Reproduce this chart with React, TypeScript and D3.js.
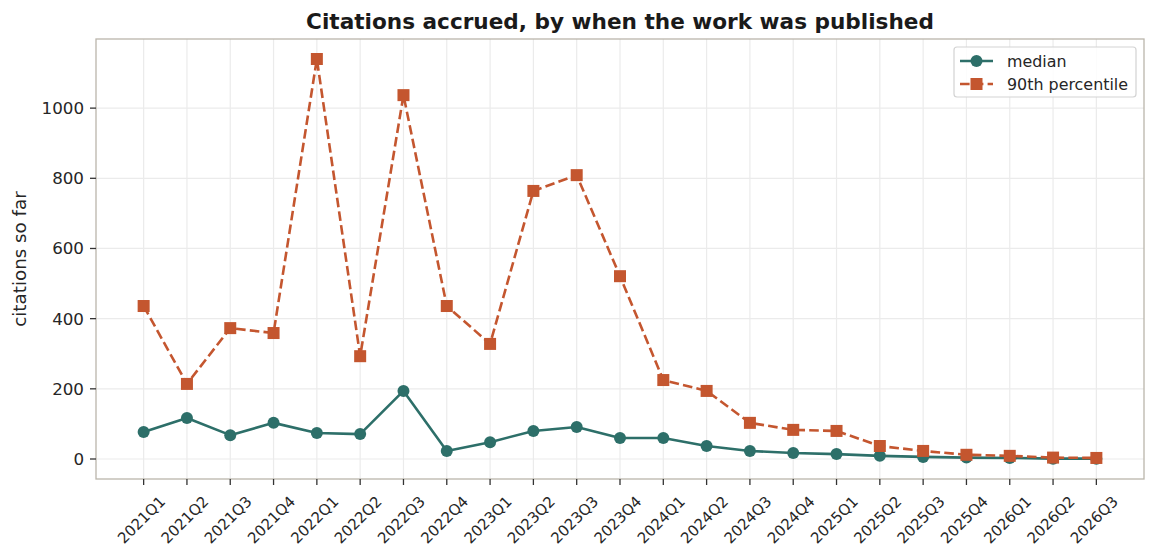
import React from "react";
import * as d3 from "d3";

const quarters = [
  "2021Q1","2021Q2","2021Q3","2021Q4",
  "2022Q1","2022Q2","2022Q3","2022Q4",
  "2023Q1","2023Q2","2023Q3","2023Q4",
  "2024Q1","2024Q2","2024Q3","2024Q4",
  "2025Q1","2025Q2","2025Q3","2025Q4",
  "2026Q1","2026Q2","2026Q3",
];
const medianValues = [77,117,68,103,74,71,194,23,48,80,91,60,60,37,23,17,14,9,6,4,3,1,1];
const p90Values = [436,214,373,359,1140,293,1037,436,328,764,809,521,225,194,103,83,80,37,23,12,9,4,3];
const yTicks = [0,200,400,600,800,1000];

const W = 1156, H = 558;
const L = 96, R = 1144, T = 39, B = 479;
const TEAL = "#2d6f69";
const ORANGE = "#c4562f";
const FONT = "DejaVu Sans";

export default function App() {
  const n = quarters.length;
  const x = d3.scaleLinear().domain([-0.05 * (n - 1), (n - 1) * 1.05]).range([L, R]);
  const yMax = Math.max(...p90Values), yMin = 0;
  const pad = (yMax - yMin) * 0.05;
  const y = d3.scaleLinear().domain([yMin - pad, yMax + pad]).range([B, T]);
  const line = d3.line<number>().x((_, i) => x(i)).y((v) => y(v));

  const xl = 15;
  const labelCenterY = B + 6 + 6 + 29;

  return (
    <svg width={W} height={H} style={{ position: "absolute", left: 0, top: 0, background: "#fff" }} fontFamily={FONT}>
      <rect x={0} y={0} width={W} height={H} fill="#fff" />
      {/* grid */}
      <g stroke="#ebebeb" strokeWidth={1.2}>
        {quarters.map((_, i) => (
          <line key={"gx" + i} x1={x(i)} x2={x(i)} y1={T} y2={B} />
        ))}
        {yTicks.map((t) => (
          <line key={"gy" + t} x1={L} x2={R} y1={y(t)} y2={y(t)} />
        ))}
      </g>
      {/* lines */}
      <path d={line(medianValues) || ""} fill="none" stroke={TEAL} strokeWidth={2.6} strokeLinejoin="round" />
      {medianValues.map((v, i) => (
        <circle key={"m" + i} cx={x(i)} cy={y(v)} r={6} fill={TEAL} />
      ))}
      <path d={line(p90Values) || ""} fill="none" stroke={ORANGE} strokeWidth={2.6} strokeDasharray="9.6,4.2" />
      {p90Values.map((v, i) => (
        <rect key={"p" + i} x={x(i) - 6} y={y(v) - 6} width={12} height={12} fill={ORANGE} />
      ))}
      {/* spines */}
      <rect x={L} y={T} width={R - L} height={B - T} fill="none" stroke="#bab5ab" strokeWidth={1.3} />
      {/* y ticks */}
      {yTicks.map((t) => (
        <g key={"yt" + t}>
          <line x1={L - 6} x2={L} y1={y(t)} y2={y(t)} stroke="#333" strokeWidth={1.3} />
          <text x={L - 12} y={y(t)} dy="0.36em" textAnchor="end" fontSize={16.7} fill="#262626">{t}</text>
        </g>
      ))}
      {/* x ticks */}
      {quarters.map((q, i) => (
        <g key={"xt" + i}>
          <line x1={x(i)} x2={x(i)} y1={B} y2={B + 6} stroke="#333" strokeWidth={1.3} />
          <text
            x={x(i) - 2}
            y={labelCenterY}
            textAnchor="middle"
            dominantBaseline="central"
            fontSize={xl}
            fill="#262626"
            transform={`rotate(-45 ${x(i) - 2} ${labelCenterY})`}
          >{q}</text>
        </g>
      ))}
      {/* y label */}
      <text x={0} y={0} transform={`translate(26 ${(T + B) / 2}) rotate(-90)`} textAnchor="middle" fontSize={18.3} fill="#262626">citations so far</text>
      {/* title */}
      <text x={(L + R) / 2} y={29} textAnchor="middle" fontSize={21.6} fontWeight="bold" fill="#1a1a1a">Citations accrued, by when the work was published</text>
      {/* legend */}
      <g>
        <rect x={954} y={47} width={182} height={50} rx={3} fill="#fff" fillOpacity={0.85} stroke="#d3d3d3" strokeWidth={1.2} />
        <line x1={960} x2={993} y1={61} y2={61} stroke={TEAL} strokeWidth={2.6} />
        <circle cx={976.5} cy={61} r={6} fill={TEAL} />
        <text x={1007} y={61} dy="0.36em" fontSize={15.9} fill="#262626">median</text>
        <line x1={960} x2={993} y1={84} y2={84} stroke={ORANGE} strokeWidth={2.6} strokeDasharray="9.6,4.2" />
        <rect x={970.5} y={78} width={12} height={12} fill={ORANGE} />
        <text x={1007} y={84} dy="0.36em" fontSize={15.9} fill="#262626">90th percentile</text>
      </g>
    </svg>
  );
}
